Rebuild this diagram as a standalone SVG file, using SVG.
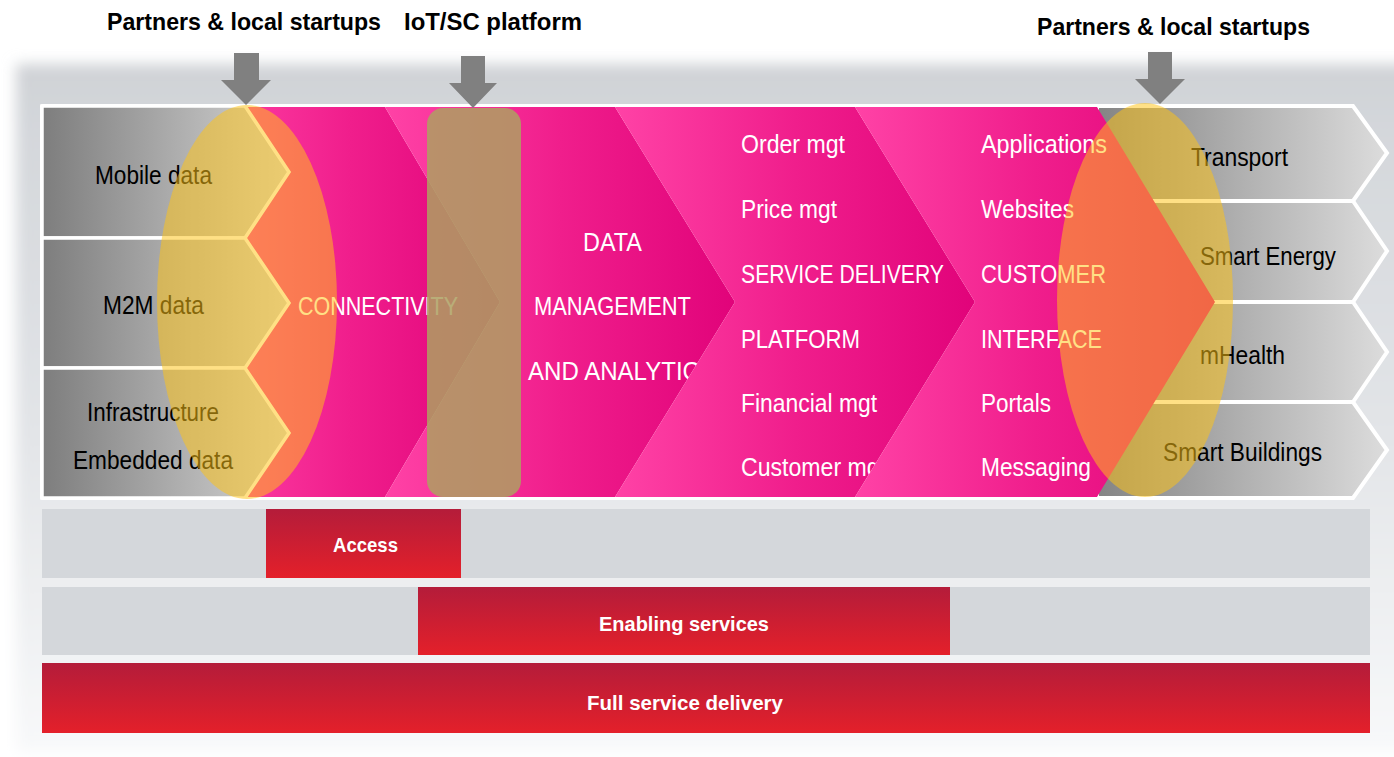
<svg xmlns="http://www.w3.org/2000/svg" width="1394" height="757" viewBox="0 0 1394 757">
<style>
.t{font-family:"Liberation Sans",Arial,sans-serif}
.title{font-size:24px;font-weight:bold;fill:#000}
.dk{font-size:25px;fill:#000}
.wt{font-size:25px;fill:#fff}
.bt{font-size:21px;font-weight:bold;fill:#fff}
.lbox{fill:url(#greyL);stroke:#fff;stroke-width:3.5;stroke-linejoin:miter}
.rbox{fill:url(#greyR);stroke:#fff;stroke-width:4;stroke-linejoin:miter}
.chev{fill:url(#pinkG)}
.ell{fill:#ffc416;fill-opacity:0.52}
.bar{fill:#d4d7db}
.red{fill:url(#redG)}
.arr{fill:#808080}
</style>
<defs>
<linearGradient id="panelG" x1="0" y1="0" x2="0" y2="1">
<stop offset="0" stop-color="#cfd2d6"/>
<stop offset="0.1" stop-color="#d4d7db"/>
<stop offset="0.55" stop-color="#e3e5e8"/>
<stop offset="1" stop-color="#f8f9fa"/>
</linearGradient>
<filter id="soft" x="-5%" y="-5%" width="110%" height="110%"><feGaussianBlur stdDeviation="7"/></filter>
<linearGradient id="greyL" gradientUnits="userSpaceOnUse" x1="44" y1="0" x2="290" y2="0">
<stop offset="0" stop-color="#7e7e7e"/>
<stop offset="1" stop-color="#d6d6d6"/>
</linearGradient>
<linearGradient id="greyR" gradientUnits="userSpaceOnUse" x1="1100" y1="0" x2="1386" y2="0">
<stop offset="0" stop-color="#858585"/>
<stop offset="1" stop-color="#dcdcdc"/>
</linearGradient>
<linearGradient id="pinkG" x1="0" y1="0" x2="1" y2="0">
<stop offset="0" stop-color="#ff42a6"/>
<stop offset="0.5" stop-color="#f01e8c"/>
<stop offset="1" stop-color="#e1037a"/>
</linearGradient>
<linearGradient id="redG" x1="0" y1="0" x2="0" y2="1">
<stop offset="0" stop-color="#b41c3a"/>
<stop offset="1" stop-color="#e4202a"/>
</linearGradient>
</defs>

<rect x="16" y="64" width="1400" height="688" fill="url(#panelG)" filter="url(#soft)"/>
<rect id="frame" x="40" y="104" width="1070" height="396" rx="3" fill="#fff"/>

<g id="connectivity">
<polygon class="chev" points="200,107 385,107 500,302 385,497 200,497"/>
</g>

<g id="mobile-data">
<polygon class="lbox" points="42,106 245,106 289,172 245,238 42,238"/>
<text class="t dk" x="153.5" y="184" text-anchor="middle" textLength="117" lengthAdjust="spacingAndGlyphs">Mobile data</text>
</g>
<g id="m2m-data">
<polygon class="lbox" points="42,238 245,238 289,303 245,368 42,368"/>
<text class="t dk" x="153.5" y="314" text-anchor="middle" textLength="101" lengthAdjust="spacingAndGlyphs">M2M data</text>
</g>
<g id="infrastructure">
<polygon class="lbox" points="42,368 245,368 289,433 245,498 42,498"/>
<text class="t dk" x="153" y="421" text-anchor="middle" textLength="132" lengthAdjust="spacingAndGlyphs">Infrastructure</text>
<text class="t dk" x="153" y="469" text-anchor="middle" textLength="160" lengthAdjust="spacingAndGlyphs">Embedded data</text>
</g>

<g id="connectivity-label">
<text class="t wt" x="298" y="315" textLength="160" lengthAdjust="spacingAndGlyphs">CONNECTIVITY</text>
</g>

<g id="data-management">
<polygon class="chev" points="385,107 615,107 735,302 615,497 385,497 500,302"/>
<text class="t wt" x="583" y="251" textLength="59" lengthAdjust="spacingAndGlyphs">DATA</text>
<text class="t wt" x="534" y="315" textLength="157" lengthAdjust="spacingAndGlyphs">MANAGEMENT</text>
<text class="t wt" x="528" y="380" textLength="188" lengthAdjust="spacingAndGlyphs">AND ANALYTICS</text>
</g>

<g id="service-delivery">
<polygon class="chev" points="615,107 855,107 975,302 855,497 615,497 735,302"/>
<text class="t wt" x="741" y="153" textLength="104" lengthAdjust="spacingAndGlyphs">Order mgt</text>
<text class="t wt" x="741" y="218" textLength="96" lengthAdjust="spacingAndGlyphs">Price mgt</text>
<text class="t wt" x="741" y="283" textLength="203" lengthAdjust="spacingAndGlyphs">SERVICE DELIVERY</text>
<text class="t wt" x="741" y="348" textLength="119" lengthAdjust="spacingAndGlyphs">PLATFORM</text>
<text class="t wt" x="741" y="412" textLength="136" lengthAdjust="spacingAndGlyphs">Financial mgt</text>
<text class="t wt" x="741" y="476" textLength="145" lengthAdjust="spacingAndGlyphs">Customer mgt</text>
</g>

<g id="transport">
<polygon class="rbox" points="1097,106 1353,106 1387,153 1353,201 1097,201"/>
<text class="t dk" x="1191" y="166" textLength="97" lengthAdjust="spacingAndGlyphs">Transport</text>
</g>
<g id="smart-energy">
<polygon class="rbox" points="1097,201 1353,201 1387,251 1353,302 1097,302"/>
<text class="t dk" x="1200" y="265" textLength="136" lengthAdjust="spacingAndGlyphs">Smart Energy</text>
</g>
<g id="mhealth">
<polygon class="rbox" points="1097,302 1353,302 1387,352 1353,402 1097,402"/>
<text class="t dk" x="1200" y="364" textLength="85" lengthAdjust="spacingAndGlyphs">mHealth</text>
</g>
<g id="smart-buildings">
<polygon class="rbox" points="1097,402 1353,402 1387,450 1353,498 1097,498"/>
<text class="t dk" x="1163" y="461" textLength="159" lengthAdjust="spacingAndGlyphs">Smart Buildings</text>
</g>

<g id="customer-interface">
<polygon class="chev" points="855,107 1097,107 1215,302 1097,497 855,497 975,302"/>
<text class="t wt" x="981" y="153" textLength="126" lengthAdjust="spacingAndGlyphs">Applications</text>
<text class="t wt" x="981" y="218" textLength="93" lengthAdjust="spacingAndGlyphs">Websites</text>
<text class="t wt" x="981" y="283" textLength="125" lengthAdjust="spacingAndGlyphs">CUSTOMER</text>
<text class="t wt" x="981" y="348" textLength="121" lengthAdjust="spacingAndGlyphs">INTERFACE</text>
<text class="t wt" x="981" y="412" textLength="70" lengthAdjust="spacingAndGlyphs">Portals</text>
<text class="t wt" x="981" y="476" textLength="110" lengthAdjust="spacingAndGlyphs">Messaging</text>
</g>

<g id="iot-platform">
<rect x="427" y="108" width="94" height="389" rx="16" fill="#ae9f62" fill-opacity="0.86"/>
</g>

<g id="partners-left">
<ellipse class="ell" cx="247" cy="302" rx="90" ry="197"/>
</g>
<g id="partners-right">
<ellipse class="ell" cx="1145" cy="300" rx="88" ry="197"/>
</g>

<g id="labels">
<text class="t title" x="107" y="30" textLength="274" lengthAdjust="spacingAndGlyphs">Partners &amp; local startups</text>
<text class="t title" x="404" y="30" textLength="178" lengthAdjust="spacingAndGlyphs">IoT/SC platform</text>
<text class="t title" x="1037" y="35" textLength="273" lengthAdjust="spacingAndGlyphs">Partners &amp; local startups</text>
</g>

<g id="connectors">
<polygon class="arr" points="234,53 259,53 259,80 271,80 246,105 221,80 234,80"/>
<polygon class="arr" points="461,56 485,56 485,83 497,83 473,108 449,83 461,83"/>
<polygon class="arr" points="1148,52 1172,52 1172,79 1185,79 1160,104 1135,79 1148,79"/>
</g>

<g id="access">
<rect class="bar" x="42" y="509" width="1328" height="69"/>
<rect class="red" x="266" y="509" width="195" height="69"/>
<text class="t bt" x="365.5" y="552" text-anchor="middle" textLength="65" lengthAdjust="spacingAndGlyphs">Access</text>
</g>
<g id="enabling-services">
<rect class="bar" x="42" y="587" width="1328" height="68"/>
<rect class="red" x="418" y="587" width="532" height="68"/>
<text class="t bt" x="684" y="631" text-anchor="middle" textLength="170" lengthAdjust="spacingAndGlyphs">Enabling services</text>
</g>
<g id="full-service-delivery">
<rect class="red" x="42" y="663" width="1328" height="70"/>
<text class="t bt" x="685" y="710" text-anchor="middle" textLength="196" lengthAdjust="spacingAndGlyphs">Full service delivery</text>
</g>
</svg>
